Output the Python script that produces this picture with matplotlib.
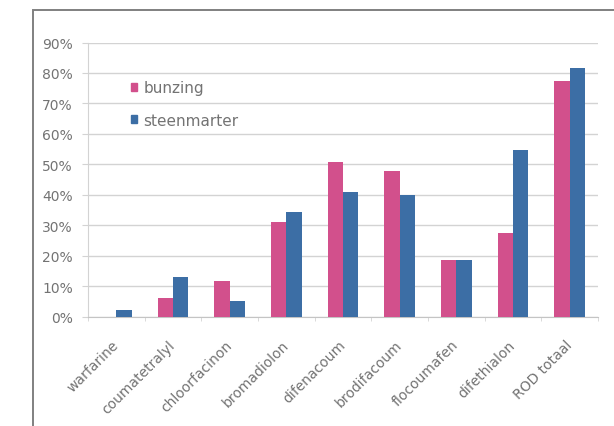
import numpy as np
import matplotlib.pyplot as plt
import matplotlib.transforms as mtransforms
from matplotlib.patches import Patch, Rectangle
from matplotlib.ticker import FixedLocator, PercentFormatter

# Aandeel positieve monsters per stof (%)
stoffen = ["warfarine", "coumatetralyl", "chloorfacinon", "bromadiolon",
           "difenacoum", "brodifacoum", "flocoumafen", "difethialon", "ROD totaal"]
bunzing = [0.0, 6.2, 11.6, 31.2, 50.7, 47.8, 18.5, 27.5, 77.4]
steenmarter = [2.3, 13.1, 5.0, 34.4, 41.0, 39.9, 18.5, 54.7, 81.6]

kleur_bunzing = "#d2508c"
kleur_steenmarter = "#3c6ea5"
grijs_tekst = "#737373"
grijs_lijn = "#d3d3d3"

fig = plt.figure(figsize=(6.14, 4.27), dpi=100)
ax = fig.add_axes([0.1433, 0.2564, 0.8306, 0.6417])

x = np.arange(len(stoffen))
w = 0.27
ax.bar(x - w / 2, bunzing, width=w, color=kleur_bunzing, zorder=3)
ax.bar(x + w / 2, steenmarter, width=w, color=kleur_steenmarter, zorder=3)

ax.set_xlim(-0.5, len(stoffen) - 0.5)
ax.set_ylim(0, 90)
ax.set_yticks(np.arange(0, 91, 10))
ax.yaxis.set_major_formatter(PercentFormatter(decimals=0))
ax.grid(axis="y", color=grijs_lijn, linewidth=1.0, zorder=0)

ax.set_xticks(x)
ax.set_xticklabels(stoffen, rotation=45, ha="right", rotation_mode="default")
ax.xaxis.set_minor_locator(FixedLocator(np.arange(-0.5, len(stoffen), 1.0)))
ax.tick_params(axis="x", which="major", length=0, pad=15, labelsize=10,
               labelcolor=grijs_tekst)
ax.tick_params(axis="x", which="minor", length=3, color=grijs_lijn)
ax.tick_params(axis="y", length=4, color=grijs_lijn, pad=7, labelsize=10,
               labelcolor=grijs_tekst)

# labels iets naar rechts schuiven
shift = mtransforms.ScaledTranslation(5 / 100, 0, fig.dpi_scale_trans)
for lbl in ax.get_xticklabels():
    lbl.set_transform(lbl.get_transform() + shift)

for side in ["top", "right"]:
    ax.spines[side].set_visible(False)
ax.spines["left"].set_color(grijs_lijn)
ax.spines["bottom"].set_color("#c4c4c4")

handles = [Patch(color=kleur_bunzing), Patch(color=kleur_steenmarter)]
fig.legend(handles, ["bunzing", "steenmarter"], loc="upper left",
           bbox_to_anchor=(0.2134, 0.8103), frameon=False, fontsize=11,
           handlelength=0.42, handleheight=0.42, handletextpad=0.4,
           labelspacing=1.15, borderpad=0, borderaxespad=0,
           labelcolor=grijs_tekst)

# kader rond de figuur
fig.patches.append(Rectangle((33 / 614, -0.1), 1.2, 1.1 - 11 / 427,
                             transform=fig.transFigure, fill=False,
                             edgecolor="#808080", linewidth=1.4))

fig.savefig("out.png", dpi=100)
